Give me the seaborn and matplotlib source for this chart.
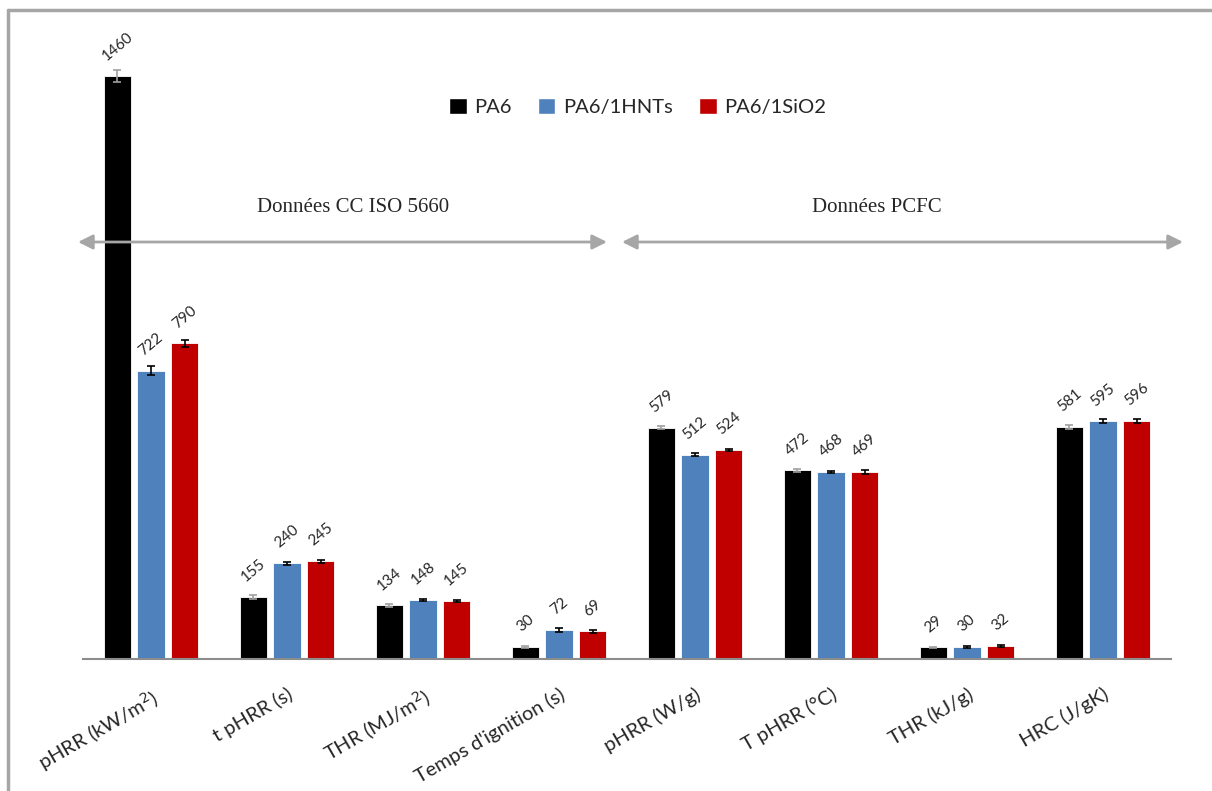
import numpy as np
import pandas as pd
import seaborn as sns
import matplotlib.pyplot as plt

categories = ['pHRR (kW/m$^2$)', 't pHRR (s)', 'THR (MJ/m$^2$)', "Temps d'ignition (s)",
              'pHRR (W/g)', 'T pHRR (°C)', 'THR (kJ/g)', 'HRC (J/gK)']
series = ['PA6', 'PA6/1HNTs', 'PA6/1SiO2']
pa6 = [1460, 155, 134, 30, 579, 472, 29, 581]
hnts = [722, 240, 148, 72, 512, 468, 30, 595]
sio2 = [790, 245, 145, 69, 524, 469, 32, 596]
pa6_err = [15, 4, 3, 3, 4, 4, 2, 4]
hnts_err = [12, 4, 3, 5, 3, 3, 2, 5]
sio2_err = [10, 4, 3, 4, 3, 5, 2, 4]
colors = ['#000000', '#4f81bd', '#c00000']
err_colors = ['#a0a0a0', '#000000', '#000000']

values = [pa6, hnts, sio2]
errors = [pa6_err, hnts_err, sio2_err]
df = pd.DataFrame({
    'cat': categories * 3,
    'serie': [s for s in series for _ in categories],
    'val': pa6 + hnts + sio2,
})

sns.set_style('white')
plt.rcParams['font.family'] = ['Lato', 'DejaVu Sans']

fig = plt.figure(figsize=(12.12, 7.91), dpi=100)
ax = fig.add_axes([83 / 1212, 132 / 791, 1088 / 1212, 639 / 791])
sns.barplot(data=df, x='cat', y='val', hue='serie', hue_order=series, palette=colors,
            saturation=1, width=0.74, gap=0.19, errorbar=None, ax=ax, legend=True)

for cont, vals, errs, ec in zip(ax.containers, values, errors, err_colors):
    xs = [b.get_x() + b.get_width() / 2 for b in cont]
    for b in cont:
        b.set_edgecolor('white')
        b.set_linewidth(0.6)
    ax.errorbar(xs, vals, yerr=errs, fmt='none', ecolor=ec, elinewidth=1.2, capsize=3, capthick=1.2)
    for x, v in zip(xs, vals):
        ax.annotate(str(v), (x, v), xytext=(0, 9), textcoords='offset points',
                    ha='center', va='bottom', rotation=40, fontsize=11)

ax.set_xlim(-0.5, 7.5)
ax.set_ylim(0, 1600)
ax.set_xlabel('')
ax.set_ylabel('')
ax.set_yticks([])
for s in ['top', 'right', 'left']:
    ax.spines[s].set_visible(False)
ax.spines['bottom'].set_color('#8c8c8c')
ax.spines['bottom'].set_linewidth(1.5)
ax.tick_params(axis='x', length=0, pad=19)
for lab in ax.get_xticklabels():
    lab.set_rotation(30)
    lab.set_ha('right')
    lab.set_va('top')
    lab.set_rotation_mode('anchor')
    lab.set_fontsize(14.5)

handles, labels = ax.get_legend_handles_labels()
ax.get_legend().remove()
fig.legend(handles, labels, loc='center', bbox_to_anchor=(638 / 1212, 1 - 107 / 791), ncol=3,
           frameon=False, fontsize=14.5, handlelength=0.85, handleheight=0.85, handletextpad=0.4,
           columnspacing=1.3)

# section arrows and titles
for x0, x1, txt, xt in [(78, 607, 'Données CC ISO 5660', 353), (622, 1183, 'Données PCFC', 877)]:
    ax.annotate('', xy=(x1, 791 - 242), xytext=(x0, 791 - 242), xycoords='figure pixels',
                textcoords='figure pixels',
                arrowprops=dict(arrowstyle='<|-|>', color='#a6a6a6', lw=2, mutation_scale=22,
                                shrinkA=0, shrinkB=0))
    fig.text(xt / 1212, 1 - 208 / 791, txt, ha='center', va='center', fontsize=15,
             family='Liberation Serif')

# frame lines (top and left)
fig.add_artist(plt.Line2D([8 / 1212, 8 / 1212], [0, 1 - 10 / 791], color='#a6a6a6', lw=2.5))
fig.add_artist(plt.Line2D([8 / 1212, 1], [1 - 10 / 791, 1 - 10 / 791], color='#a6a6a6', lw=2.5))

fig.savefig('out.png', dpi=100)
